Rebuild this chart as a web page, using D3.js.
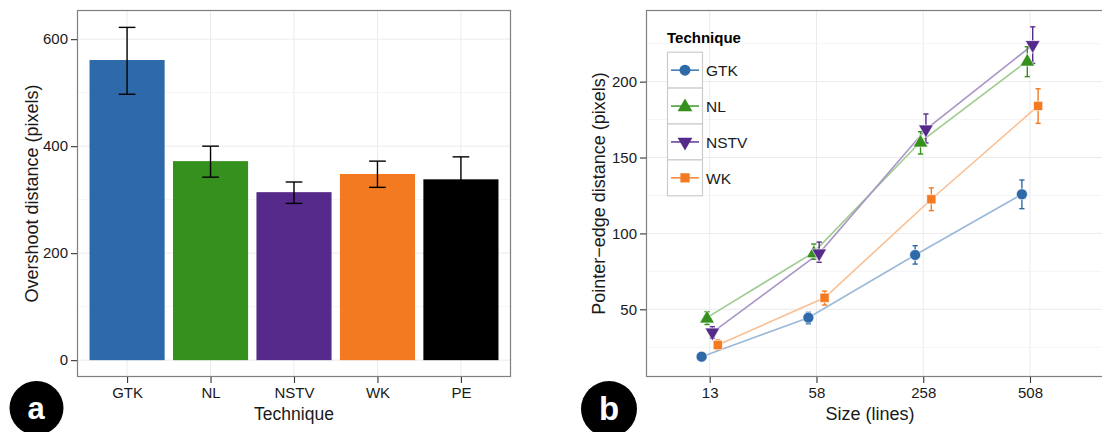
<!DOCTYPE html>
<html><head><meta charset="utf-8">
<script src="https://cdn.jsdelivr.net/npm/d3@7"></script>
<style>body{margin:0;background:#fff;} svg{display:block;font-family:"Liberation Sans",Arial,sans-serif;}</style>
</head><body>
<svg id="c" width="1102" height="432"></svg>
<script>
// ---- Panel a data ----
const techniquesA = ["GTK","NL","NSTV","WK","PE"];
const overshoot = [561, 372, 314, 348, 338];
const overshootLo = [497, 342, 293, 323, 296];
const overshootHi = [622, 400, 333, 372, 380];
const colorsA = ["#2e6aa9","#35901d","#562a8a","#f47a22","#000000"];
const yTicksA = [0,200,400,600];

// ---- Panel b data ----
const sizes = ["13","58","258","508"];
const techniquesB = ["GTK","NL","NSTV","WK"];
const pe = {
  GTK:  [18.8, 44.5, 85.8, 125.8],
  NL:   [44.5, 87.5, 160.4, 213.7],
  NSTV: [34.8, 86.9, 168.6, 224.2],
  WK:   [26.5, 57.6, 122.5, 184.0]
};
const peLo = {
  GTK:  [17.8, 40.5, 79.8, 116.3],
  NL:   [40.0, 83.0, 152.3, 203.3],
  NSTV: [31.0, 81.0, 159.6, 212.0],
  WK:   [23.5, 52.8, 115.0, 172.5]
};
const peHi = {
  GTK:  [19.8, 48.0, 91.9, 135.2],
  NL:   [48.4, 93.0, 167.0, 223.0],
  NSTV: [38.5, 94.3, 178.7, 236.1],
  WK:   [29.8, 62.0, 130.0, 195.3]
};
const colorsB = {GTK:"#2e6aa9", NL:"#35901d", NSTV:"#562a8a", WK:"#f47a22"};
const lineColorsB = {GTK:"#9bb9d9", NL:"#9dcc90", NSTV:"#a995c6", WK:"#f9bf93"};
const shapesB = {GTK:d3.symbolCircle, NL:d3.symbolTriangle, NSTV:"down", WK:d3.symbolSquare};
const yTicksB = [50,100,150,200];

const svg = d3.select("#c");
const gridCol = "#ebebeb", borderCol = "#7f7f7f", txt = "#1a1a1a";
const tickFont = 15, titleFont = 18;

// ================= Panel a =================
{
  const L=77, R=511, T=10, B=377;
  const xc = d3.scalePoint().domain(techniquesA).range([L,R]).padding(0.6);
  const step = xc.step();
  const y = d3.scaleLinear().domain([-31.5, 654.5]).range([B,T]);
  const g = svg.append("g");
  g.append("rect").attr("x",L).attr("y",T).attr("width",R-L).attr("height",B-T).attr("fill","#fff");
  [100,300,500].forEach(v=>g.append("line").attr("x1",L).attr("x2",R).attr("y1",y(v)).attr("y2",y(v)).attr("stroke","#f5f5f5").attr("stroke-width",1));
  yTicksA.forEach(v=>g.append("line").attr("x1",L).attr("x2",R).attr("y1",y(v)).attr("y2",y(v)).attr("stroke",gridCol).attr("stroke-width",1));
  techniquesA.forEach(t=>g.append("line").attr("x1",xc(t)).attr("x2",xc(t)).attr("y1",T).attr("y2",B).attr("stroke",gridCol).attr("stroke-width",1));
  const bw = step*0.9;
  g.selectAll(".bar").data(techniquesA).enter().append("rect")
    .attr("x",t=>xc(t)-bw/2).attr("width",bw)
    .attr("y",(t,i)=>y(overshoot[i])).attr("height",(t,i)=>y(0)-y(overshoot[i]))
    .attr("fill",(t,i)=>colorsA[i]);
  const ew = step*0.2;
  techniquesA.forEach((t,i)=>{
    const cx=xc(t);
    g.append("line").attr("x1",cx).attr("x2",cx).attr("y1",y(overshootLo[i])).attr("y2",y(overshootHi[i])).attr("stroke","#000").attr("stroke-width",1.4);
    [overshootLo[i],overshootHi[i]].forEach(v=>g.append("line").attr("x1",cx-ew/2).attr("x2",cx+ew/2).attr("y1",y(v)).attr("y2",y(v)).attr("stroke","#000").attr("stroke-width",1.4));
  });
  g.append("rect").attr("x",L+0.5).attr("y",T+0.5).attr("width",R-L-1).attr("height",B-T-1).attr("fill","none").attr("stroke",borderCol).attr("stroke-width",1.2);
  const ya = g.append("g").attr("transform",`translate(${L},0)`).call(d3.axisLeft(y).tickValues(yTicksA).tickSize(6).tickPadding(3));
  const xa = g.append("g").attr("transform",`translate(0,${B})`).call(d3.axisBottom(xc).tickSize(6).tickPadding(4));
  [ya,xa].forEach(a=>{a.select(".domain").remove();a.selectAll("line").attr("stroke","#333").attr("stroke-width",1.1);a.selectAll("text").attr("fill",txt).attr("font-size",tickFont).attr("font-family","Liberation Sans, Arial, sans-serif");});
  g.append("text").attr("x",(L+R)/2).attr("y",420).attr("text-anchor","middle").attr("font-size",titleFont-0.5).attr("fill",txt).text("Technique");
  g.append("text").attr("transform",`translate(38,${(T+B)/2}) rotate(-90)`).attr("text-anchor","middle").attr("font-size",titleFont).attr("fill",txt).text("Overshoot distance (pixels)");
  g.append("circle").attr("cx",36.5).attr("cy",408).attr("r",27).attr("fill","#000");
  g.append("text").attr("x",36).attr("y",419).attr("text-anchor","middle").attr("font-size",31).attr("font-weight","bold").attr("fill","#fff").text("a");
}

// ================= Panel b =================
{
  const L=646, R=1112, T=10, B=377;
  const xi = d3.scaleLinear().domain([0,3]).range([709.7,1030]);
  const x = d3.scalePoint().domain(sizes).range([xi(0),xi(3)]);
  const y = d3.scaleLinear().domain([5.4, 247.2]).range([B,T]);
  const dodge = d3.scalePoint().domain(techniquesB).range([-8.1,8.1]);
  const g = svg.append("g");
  [25,75,125,175,225].forEach(v=>g.append("line").attr("x1",L).attr("x2",R).attr("y1",y(v)).attr("y2",y(v)).attr("stroke","#f5f5f5").attr("stroke-width",1));
  yTicksB.forEach(v=>g.append("line").attr("x1",L).attr("x2",R).attr("y1",y(v)).attr("y2",y(v)).attr("stroke",gridCol).attr("stroke-width",1));
  sizes.forEach(s=>g.append("line").attr("x1",x(s)).attr("x2",x(s)).attr("y1",T).attr("y2",B).attr("stroke",gridCol).attr("stroke-width",1));
  const line = d3.line().x(d=>d[0]).y(d=>d[1]);
  techniquesB.forEach(t=>{
    const pts = sizes.map((s,i)=>[x(s)+dodge(t), y(pe[t][i])]);
    g.append("path").attr("d",line(pts)).attr("fill","none").attr("stroke",lineColorsB[t]).attr("stroke-width",1.6);
  });
  const symPath = (t, size)=>{
    if (shapesB[t]==="down") return d3.symbol(d3.symbolTriangle,size)();
    return d3.symbol(shapesB[t],size)();
  };
  const symSize = {GTK:95, NL:95, NSTV:95, WK:85};
  techniquesB.forEach(t=>{
    sizes.forEach((s,i)=>{
      const cx = x(s)+dodge(t);
      const c = colorsB[t];
      const ew = 2.6;
      g.append("line").attr("x1",cx).attr("x2",cx).attr("y1",y(peLo[t][i])).attr("y2",y(peHi[t][i])).attr("stroke",c).attr("stroke-width",1.4);
      [peLo[t][i],peHi[t][i]].forEach(v=>g.append("line").attr("x1",cx-ew).attr("x2",cx+ew).attr("y1",y(v)).attr("y2",y(v)).attr("stroke",c).attr("stroke-width",1.4));
    });
  });
  techniquesB.forEach(t=>{
    sizes.forEach((s,i)=>{
      const cx = x(s)+dodge(t), cy=y(pe[t][i]);
      const rot = shapesB[t]==="down" ? " rotate(180)" : "";
      const dy = shapesB[t]===d3.symbolTriangle ? 1 : 0;
      g.append("path").attr("d",symPath(t,symSize[t])).attr("transform",`translate(${cx},${cy+dy})${rot}`)
        .attr("fill",colorsB[t]).attr("stroke","#fff").attr("stroke-width",0.8).attr("stroke-opacity",0.8);
    });
  });
  g.append("rect").attr("x",L+0.5).attr("y",T+0.5).attr("width",R-L-1).attr("height",B-T-1).attr("fill","none").attr("stroke",borderCol).attr("stroke-width",1.2);
  const ya = g.append("g").attr("transform",`translate(${L},0)`).call(d3.axisLeft(y).tickValues(yTicksB).tickSize(6).tickPadding(3));
  const xa = g.append("g").attr("transform",`translate(0,${B})`).call(d3.axisBottom(x).tickSize(6).tickPadding(4));
  [ya,xa].forEach(a=>{a.select(".domain").remove();a.selectAll("line").attr("stroke","#333").attr("stroke-width",1.1);a.selectAll("text").attr("fill",txt).attr("font-size",tickFont).attr("font-family","Liberation Sans, Arial, sans-serif");});
  g.append("text").attr("x",870).attr("y",420).attr("text-anchor","middle").attr("font-size",titleFont).attr("fill",txt).text("Size (lines)");
  g.append("text").attr("transform",`translate(605,${(T+B)/2}) rotate(-90)`).attr("text-anchor","middle").attr("font-size",titleFont).attr("fill",txt).text("Pointer\u2212edge distance (pixels)");
  const lg = g.append("g");
  lg.append("text").attr("x",667).attr("y",43).attr("font-size",15).attr("font-weight","bold").attr("fill","#000").text("Technique");
  techniquesB.forEach((t,i)=>{
    const ky = 51.7 + i*35.9, kh=35.9, kx=667, kw=35;
    lg.append("rect").attr("x",kx+0.5).attr("y",ky+0.5).attr("width",kw).attr("height",kh).attr("fill","#fff").attr("stroke","#cccccc").attr("stroke-width",1.2);
    const cy = ky+kh/2+0.5;
    lg.append("line").attr("x1",kx+4).attr("x2",kx+kw-3).attr("y1",cy).attr("y2",cy).attr("stroke",colorsB[t]).attr("stroke-width",1.4);
    const rot = shapesB[t]==="down" ? " rotate(180)" : "";
    lg.append("path").attr("d",symPath(t,symSize[t])).attr("transform",`translate(${kx+kw/2+0.5},${cy+(shapesB[t]===d3.symbolTriangle?1:0)})${rot}`).attr("fill",colorsB[t]);
    lg.append("text").attr("x",706).attr("y",cy+6).attr("font-size",15.5).attr("fill",txt).text(t);
  });
  g.append("circle").attr("cx",609).attr("cy",409).attr("r",28).attr("fill","#000");
  g.append("text").attr("x",609).attr("y",420).attr("text-anchor","middle").attr("font-size",33).attr("font-weight","bold").attr("fill","#fff").text("b");
}
</script>
</body></html>
